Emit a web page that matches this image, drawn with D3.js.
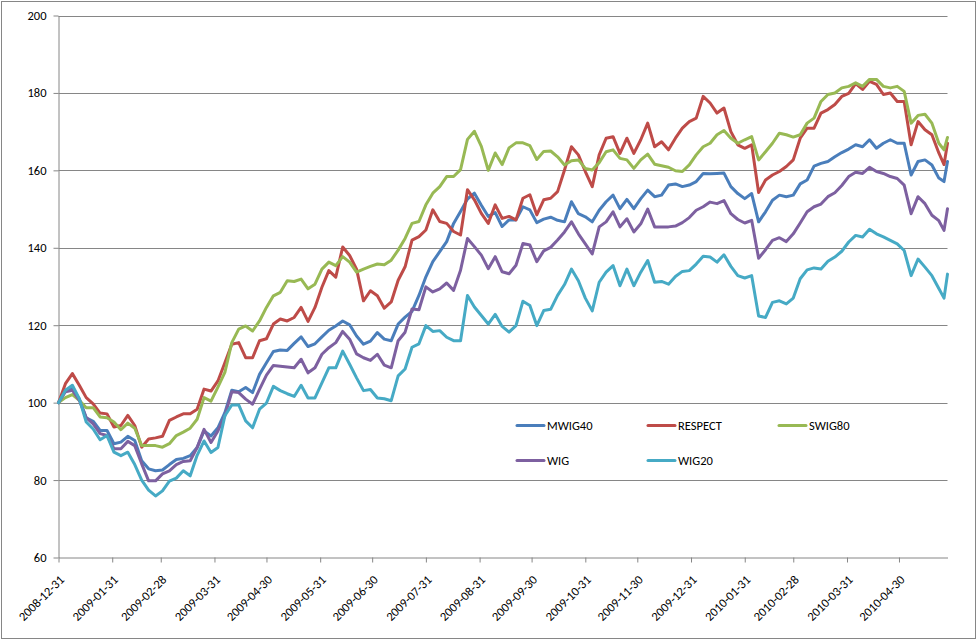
<!DOCTYPE html>
<html><head><meta charset="utf-8">
<script src="https://cdn.jsdelivr.net/npm/d3@7"></script>
<style>
html,body{margin:0;padding:0;background:#fff;}
svg{display:block;font-family:Carlito,Calibri,Lato,"Liberation Sans",sans-serif;}
</style></head>
<body><svg id="chart" width="978" height="641"></svg>
<script>
const dates = ["2008-12-31","2009-01-04","2009-01-08","2009-01-12","2009-01-16","2009-01-20","2009-01-24","2009-01-28","2009-02-01","2009-02-05","2009-02-09","2009-02-13","2009-02-17","2009-02-21","2009-02-25","2009-03-01","2009-03-05","2009-03-09","2009-03-13","2009-03-17","2009-03-21","2009-03-25","2009-03-29","2009-04-02","2009-04-06","2009-04-10","2009-04-14","2009-04-18","2009-04-22","2009-04-26","2009-04-30","2009-05-04","2009-05-08","2009-05-12","2009-05-16","2009-05-20","2009-05-24","2009-05-28","2009-06-01","2009-06-05","2009-06-09","2009-06-13","2009-06-17","2009-06-21","2009-06-25","2009-06-29","2009-07-03","2009-07-07","2009-07-11","2009-07-15","2009-07-19","2009-07-23","2009-07-27","2009-07-31","2009-08-04","2009-08-08","2009-08-12","2009-08-16","2009-08-20","2009-08-24","2009-08-28","2009-09-01","2009-09-05","2009-09-09","2009-09-13","2009-09-17","2009-09-21","2009-09-25","2009-09-29","2009-10-03","2009-10-07","2009-10-11","2009-10-15","2009-10-19","2009-10-23","2009-10-27","2009-10-31","2009-11-04","2009-11-08","2009-11-12","2009-11-16","2009-11-20","2009-11-24","2009-11-28","2009-12-02","2009-12-06","2009-12-10","2009-12-14","2009-12-18","2009-12-22","2009-12-26","2009-12-30","2010-01-03","2010-01-07","2010-01-11","2010-01-15","2010-01-19","2010-01-23","2010-01-27","2010-01-31","2010-02-04","2010-02-08","2010-02-12","2010-02-16","2010-02-20","2010-02-24","2010-02-28","2010-03-04","2010-03-08","2010-03-12","2010-03-16","2010-03-20","2010-03-24","2010-03-28","2010-04-01","2010-04-05","2010-04-09","2010-04-13","2010-04-17","2010-04-21","2010-04-25","2010-04-29","2010-05-03","2010-05-07","2010-05-11","2010-05-15","2010-05-19","2010-05-23","2010-05-26","2010-05-28"];

const mwig40 = [100,103.2,103.6,101,96.1,95.2,92.8,92.8,89.4,89.8,91.3,90.2,85,82.9,82.4,82.6,84,85.3,85.6,86.3,88.4,92.7,91.4,93.5,97.4,103.2,102.8,103.9,102.6,107.3,110.3,113.2,113.6,113.5,115.3,117,114.5,115.2,117,118.7,119.8,121.1,120.1,117.2,115.1,115.9,118.1,116.4,116,120.3,122.1,123.6,127.7,132.5,136.4,139,141.6,146.3,149.4,152.6,154.1,151,148.1,149.1,145.5,147.2,147.2,150.6,149.8,146.5,147.4,147.9,147.1,146.7,151.9,148.8,148,146.7,149.7,151.9,153.6,150.1,152.5,150.1,152.7,154.9,153.2,153.6,156.2,156.5,155.8,156.2,157.1,159.2,159.1,159.2,159.3,155.8,154,152.7,154,146.7,149.3,152.3,153.6,153.2,153.6,156.5,157.5,161.1,161.8,162.3,163.5,164.6,165.5,166.6,166.1,167.9,165.7,167,167.9,167,167,158.8,162.3,162.7,161.4,158,157.1,162.3];

const respect = [100,104.9,107.5,104.5,101.3,99.7,97.3,97.1,93.7,94.1,96.7,94.1,88.5,90.6,90.9,91.3,95.4,96.3,97.1,97.1,98.3,103.5,103,105.6,110.3,115.1,115.5,111.6,111.6,116,116.5,120.3,121.6,121.1,122,124.6,121,124.6,129.8,134.1,132.4,140.2,138,134.5,126.3,128.9,127.6,124.4,126,131.6,135.1,142,142.9,144.6,149.8,146.8,146.3,144.2,143.3,155,152.4,148.9,146.3,151.1,147.6,148.1,147.2,152.8,153.7,148.5,152.4,152.8,154.5,160.1,166.1,164,159.7,155.8,164,168.3,168.7,164.4,168.3,164.4,167.9,172.2,166.1,167.4,165.3,168.3,170.9,172.6,173.5,179.1,177.4,174.8,176.1,170,166.6,165.7,166.6,154.3,157.5,158.8,159.7,161,162.7,168.3,170.9,170.9,174.8,175.7,177,179.1,179.9,182.4,180.9,183,182.2,179.6,180,177.8,177.8,166.6,172.6,170.5,169.2,164.5,161.5,167];

const swig80 = [100,101.3,102.1,100.6,98.7,98.7,96.3,96.1,95,93,94.7,93.4,88.9,88.9,88.9,88.5,89.4,91.5,92.4,93.4,95.7,101.3,100.4,104,107.8,115.5,119,119.8,118.5,121.1,124.6,127.6,128.5,131.5,131.3,131.9,129.4,130.6,134.5,136.3,135.4,137.7,136.3,133.7,134.5,135.2,135.8,135.6,136.8,139.4,142.4,146.3,146.8,151.1,154.1,155.8,158.4,158.4,160.2,168,170.1,166.2,160,164.5,161.5,165.8,167.1,167.1,166.4,162.8,164.9,165,163.5,161.4,162.5,162.7,160.5,160.1,162,164.8,165.3,163.1,162.7,160.5,162.7,164.2,161.6,161.2,160.8,159.9,159.7,161.4,164,166.1,167,169.2,170.3,168.3,167,167.9,168.7,162.7,164.8,167,169.6,169.2,168.6,169.2,172.2,173.5,177.8,179.6,180,181.3,181.7,182.6,181.7,183.5,183.5,181.7,181.3,181.7,180.4,172.2,174.2,174.5,172.2,167,165.3,168.5];

const wig = [100,102.8,103.2,100.6,96.1,94.5,92,91.5,88.1,88.1,90,88.9,84.2,79.8,79.8,81.6,82.4,84,84.8,85,88.4,93.1,89.7,92.7,96.6,102.8,102.6,100.9,99.6,103.4,107.1,109.6,109.4,109.2,109,111.2,107.7,109,112.5,114.2,115.5,118.4,116.4,112.6,111.6,110.9,112.5,109.7,109,116,118.2,124.2,124,129.9,128.6,129.4,130.9,129,134.2,142.4,140.3,138.1,134.6,137.7,133.8,133.3,135.5,141.1,140.7,136.4,139.2,140.1,142,144.1,146.7,143.6,141,138.4,145.4,146.7,149.3,145.4,147.5,144.1,146.2,150,145.4,145.4,145.4,145.6,146.5,147.8,149.7,150.6,151.8,151.4,152.2,148.8,147.3,146.4,147.1,137.3,139.5,141.9,142.6,141.6,143.6,146.4,149.3,150.6,151.3,153.2,154.2,156.1,158.4,159.5,159.2,160.8,159.7,159.2,158.4,157.9,156.2,148.8,153.2,151.4,148.4,147,144.5,150.1];

const wig20 = [100,103.2,104.5,101,95,93.2,90.4,91.5,87.2,86.3,87.2,84,80,77.4,75.9,77.2,79.7,80.5,82.4,81.1,86.4,90.1,87.1,88.4,96.6,99.4,99.4,95.3,93.5,98.3,99.9,104.2,103.1,102.3,101.6,104.5,101.2,101.2,105.1,109,109,113.3,109.9,106.4,103.1,103.4,101.2,101,100.5,106.9,108.7,114.3,115.2,119.9,118.4,118.6,116.9,116,116,127.7,124.7,122.5,120.3,122.8,119.7,118.2,119.9,126.2,125.1,119.9,123.8,124.1,127.7,130.5,134.5,131.5,127,123.7,131.1,133.7,135.4,130.2,134.5,130.2,133.7,136.7,131.1,131.3,130.6,132.6,133.9,134.1,135.8,137.8,137.6,136.3,138.2,135.2,132.8,132.2,132.8,122.4,122,125.9,126.3,125.5,127,132,134.3,134.8,134.5,136.5,137.6,139.1,141.5,143.2,142.8,144.8,143.6,142.8,141.9,141,139.3,132.8,137.1,135,132.8,129.5,127,133.2];

const seriesNames = ["MWIG40","RESPECT","SWIG80","WIG","WIG20"];
const seriesValues = [mwig40, respect, swig80, wig, wig20];
const seriesColors = ["#4A7EBB","#BE4B48","#98B954","#7D60A0","#46AAC5"];
const yTicks = [60,80,100,120,140,160,180,200];
const xTickLabels = ["2008-12-31","2009-01-31","2009-02-28","2009-03-31","2009-04-30","2009-05-31","2009-06-30","2009-07-31","2009-08-31","2009-09-30","2009-10-31","2009-11-30","2009-12-31","2010-01-31","2010-02-28","2010-03-31","2010-04-30"];

const parse = d3.timeParse("%Y-%m-%d");
const svg = d3.select("#chart");
const gridCol = "#868686";
const fontFam = "Carlito,Calibri,Lato,'Liberation Sans',sans-serif";

// outer frame
svg.append("rect").attr("x",1.5).attr("y",1.5).attr("width",974).attr("height",637)
  .attr("fill","none").attr("stroke",gridCol).attr("stroke-width",1);

const x = d3.scaleTime().domain([parse("2008-12-31"), parse("2010-05-28")]).range([58.5, 947.5]);
const y = d3.scaleLinear().domain([60,200]).range([557.5, 15.5]);

// gridlines
svg.append("g").selectAll("line").data(yTicks.filter(v=>v>60)).join("line")
  .attr("x1",58.5).attr("x2",947.5)
  .attr("y1",d=>Math.round(y(d))+0.5).attr("y2",d=>Math.round(y(d))+0.5)
  .attr("stroke",gridCol).attr("stroke-width",1);

// y axis
const yAxis = d3.axisLeft(y).tickValues(yTicks).tickSize(5).tickSizeOuter(0).tickPadding(7);
const gy = svg.append("g").attr("transform","translate(58.5,0)").call(yAxis);
gy.select(".domain").attr("stroke",gridCol);
gy.selectAll(".tick line").attr("stroke",gridCol);
gy.selectAll(".tick text").attr("fill","#000").style("font-size","12.5px").style("font-family",fontFam);

// x axis
const xAxis = d3.axisBottom(x).tickValues(xTickLabels.map(parse)).tickFormat(d3.timeFormat("%Y-%m-%d")).tickSize(5).tickSizeOuter(0);
const gx = svg.append("g").attr("transform","translate(0,557.5)").call(xAxis);
gx.select(".domain").attr("stroke",gridCol);
gx.selectAll(".tick line").attr("stroke",gridCol);
gx.selectAll(".tick text").attr("fill","#000").style("font-size","12.5px").style("font-family",fontFam)
  .attr("text-anchor","end").attr("dy",null).attr("y",0).attr("x",0)
  .attr("transform","translate(6,23) rotate(-45)");

// lines
const line = d3.line().x((d,i)=>x(parse(dates[i]))).y(d=>y(d)).curve(d3.curveLinear);
svg.append("g").selectAll("path").data(seriesValues).join("path")
  .attr("d",d=>line(d)).attr("fill","none")
  .attr("stroke",(d,i)=>seriesColors[i]).attr("stroke-width",3)
  .attr("stroke-linejoin","round").attr("stroke-linecap","round");

// legend
const legendPos = [[517,425.5],[648,425.5],[779,425.5],[517,460.5],[648,460.5]];
const lg = svg.append("g").selectAll("g").data(seriesNames).join("g")
  .attr("transform",(d,i)=>`translate(${legendPos[i][0]},${legendPos[i][1]})`);
lg.append("line").attr("x1",0).attr("x2",27).attr("y1",0).attr("y2",0)
  .attr("stroke",(d,i)=>seriesColors[i]).attr("stroke-width",3).attr("stroke-linecap","round");
lg.append("text").attr("x",30).attr("y",0).attr("dy","0.35em").text(d=>d)
  .style("font-size","12.5px").style("font-family",fontFam).attr("fill","#000");
</script></body></html>
